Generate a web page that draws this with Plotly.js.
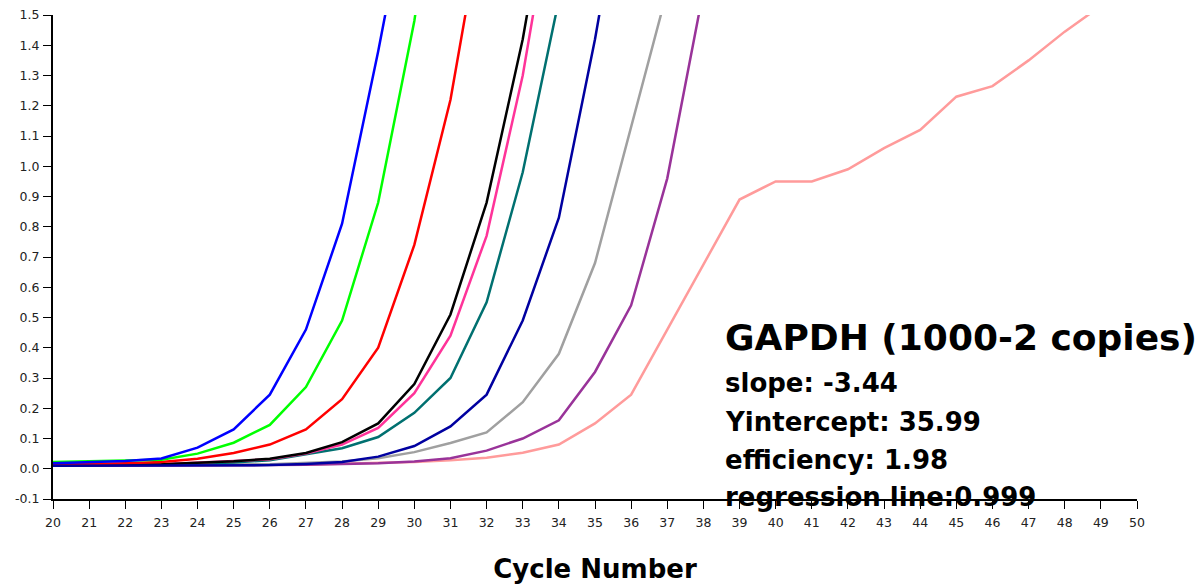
<!DOCTYPE html>
<html>
<head>
<meta charset="utf-8">
<script src="https://cdn.plot.ly/plotly-3.0.1.min.js"></script>
<style>html,body{margin:0;padding:0;background:#fff;}#chart{width:1202px;height:584px;}</style>
</head>
<body>
<div id="chart"></div>
<script>
// Cycle numbers (x categories)
const cycles = [20,21,22,23,24,25,26,27,28,29,30,31,32,33,34,35,36,37,38,39,40,41,42,43,44,45,46,47,48,49,50];

// Fluorescence readings per dilution (from cycle 20 onward)
const blueVals   = [0.018,0.022,0.026,0.034,0.07,0.13,0.245,0.46,0.81,1.38,2.0];
const greenVals  = [0.022,0.024,0.026,0.03,0.05,0.086,0.145,0.27,0.49,0.88,1.48,2.3];
const redVals    = [0.014,0.015,0.018,0.022,0.033,0.052,0.08,0.13,0.23,0.40,0.74,1.22,1.9];
const blackVals  = [0.012,0.012,0.013,0.015,0.02,0.025,0.033,0.052,0.088,0.15,0.28,0.51,0.88,1.42,2.1];
const pinkVals   = [0.012,0.012,0.013,0.015,0.02,0.024,0.031,0.05,0.08,0.135,0.25,0.44,0.77,1.30,2.0];
const tealVals   = [0.012,0.012,0.013,0.014,0.017,0.021,0.028,0.048,0.068,0.105,0.185,0.30,0.55,0.98,1.55];
const navyVals   = [0.01,0.01,0.01,0.01,0.011,0.011,0.012,0.016,0.022,0.04,0.075,0.14,0.245,0.49,0.83,1.42,2.1];
const grayVals   = [0.012,0.012,0.012,0.012,0.013,0.014,0.015,0.019,0.024,0.035,0.055,0.085,0.12,0.22,0.38,0.68,1.13,1.58];
const purpleVals = [0.01,0.01,0.01,0.011,0.011,0.012,0.012,0.013,0.015,0.018,0.024,0.035,0.06,0.10,0.16,0.32,0.54,0.96,1.58];
const salmonVals = [0.011,0.011,0.011,0.012,0.012,0.012,0.013,0.014,0.016,0.018,0.022,0.028,0.036,0.053,0.08,0.15,0.245,0.46,0.675,0.89,0.95,0.95,0.99,1.06,1.12,1.23,1.265,1.35,1.445,1.53];

const yTickVals  = [-0.1,0.0,0.1,0.2,0.3,0.4,0.5,0.6,0.7,0.8,0.9,1.0,1.1,1.2,1.3,1.4,1.5];
const yTickText  = ["-0.1","0.0","0.1","0.2","0.3","0.4","0.5","0.6","0.7","0.8","0.9","1.0","1.1","1.2","1.3","1.4","1.5"];

const titleText = "GAPDH (1000-2 copies)";
const statLines = ["slope: -3.44","Yintercept: 35.99","efficiency: 1.98","regression line:0.999"];

const series = [
  {y: salmonVals, color: "#FF9B9B"},
  {y: purpleVals, color: "#993399"},
  {y: grayVals,   color: "#A0A0A0"},
  {y: tealVals,   color: "#007070"},
  {y: pinkVals,   color: "#FF3399"},
  {y: blackVals,  color: "#000000"},
  {y: redVals,    color: "#FF0000"},
  {y: greenVals,  color: "#00FF00"},
  {y: blueVals,   color: "#0000FF"},
  {y: navyVals,   color: "#0000A0"}
];

const traces = series.map(s => ({
  type: "scatter", mode: "lines",
  x: cycles.slice(0, s.y.length), y: s.y,
  line: {color: s.color, width: 2.5},
  hoverinfo: "skip", showlegend: false
}));

const tickFont = {family: "DejaVu Sans, Verdana, sans-serif", size: 12.5, color: "#222"};
const boldFont = "DejaVu Sans, Verdana, sans-serif";

const annotations = [
  {x: 38.55, y: 0.434, xref: "x", yref: "y", xanchor: "left", yanchor: "middle", showarrow: false,
   text: "<b>" + titleText + "</b>", font: {family: boldFont, size: 36, color: "#000"}}
];
const statY = [0.285, 0.156, 0.03, -0.093];
statLines.forEach((t, i) => annotations.push({
  x: 38.55, y: statY[i], xref: "x", yref: "y", xanchor: "left", yanchor: "middle", showarrow: false,
  text: "<b>" + t + "</b>", font: {family: boldFont, size: 26, color: "#000"}
}));

const layout = {
  width: 1202, height: 584,
  margin: {l: 53, r: 65, t: 15, b: 85},
  paper_bgcolor: "#fff", plot_bgcolor: "#fff",
  showlegend: false,
  xaxis: {
    range: [20, 50], tickmode: "array", tickvals: cycles, ticktext: cycles.map(String),
    showgrid: false, zeroline: false, showline: true, linecolor: "#000", linewidth: 2,
    ticks: "outside", ticklen: 8, tickwidth: 1, tickcolor: "#000", ticklabelstandoff: 3,
    tickfont: tickFont,
    title: {text: "<b>Cycle Number</b>", font: {family: boldFont, size: 26, color: "#000"}, standoff: 33},
    automargin: false, fixedrange: true
  },
  yaxis: {
    range: [-0.1, 1.5], tickmode: "array", tickvals: yTickVals, ticktext: yTickText,
    showgrid: false, zeroline: false, showline: true, linecolor: "#000", linewidth: 2,
    ticks: "outside", ticklen: 8, tickwidth: 1, tickcolor: "#000", ticklabelstandoff: 1,
    tickfont: tickFont, automargin: false, fixedrange: true
  },
  annotations: annotations
};

Plotly.newPlot("chart", traces, layout, {displayModeBar: false, staticPlot: true});
</script>
</body>
</html>
